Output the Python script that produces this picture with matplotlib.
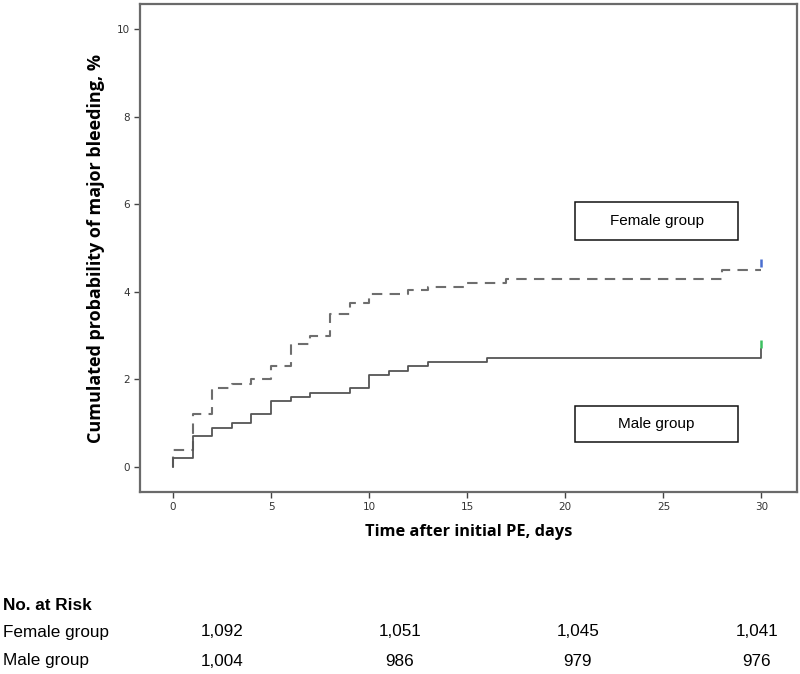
import matplotlib
matplotlib.use("Agg")
import numpy as np
from matplotlib import pyplot as plt
from matplotlib.patches import Rectangle

# region Data
female_days = [0, 0, 1, 2, 3, 4, 5, 6, 7, 8, 9, 10, 12, 13, 15, 17, 28, 30]
female_pct = [0, 0.4, 1.2, 1.8, 1.9, 2.0, 2.3, 2.8, 3.0, 3.5, 3.75, 3.95, 4.05, 4.12, 4.2, 4.3, 4.5, 4.5]
male_days = [0, 0, 1, 2, 3, 4, 5, 6, 7, 9, 10, 11, 12, 13, 16, 30]
male_pct = [0, 0.2, 0.7, 0.9, 1.0, 1.2, 1.5, 1.6, 1.7, 1.8, 2.1, 2.2, 2.3, 2.4, 2.5, 2.7]
female_censor = (30, 4.65)
male_censor = (30, 2.8)

x_ticks = [0, 5, 10, 15, 20, 25, 30]
y_ticks = [0, 2, 4, 6, 8, 10]

risk_groups = ["Female group", "Male group"]
risk_female = ["1,092", "1,051", "1,045", "1,041"]
risk_male = ["1,004", "986", "979", "976"]
# endregion

fig = plt.figure(figsize=(8, 6.74), dpi=100)
ax = fig.add_axes([0.175, 0.27, 0.821, 0.724])

ax.step(female_days, female_pct, where="post", color="#6e6e6e", lw=1.5,
        linestyle=(0, (5, 3.5)))
ax.step(male_days, male_pct, where="post", color="#555555", lw=1.3)
ax.plot(*female_censor, marker="|", color="#4a6fd0", ms=6, mew=1.8)
ax.plot(*male_censor, marker="|", color="#3cc060", ms=6, mew=1.8)

ax.set_xlim(-1.68, 31.8)
ax.set_ylim(-0.57, 10.57)
ax.set_xticks(x_ticks)
ax.set_yticks(y_ticks)
ax.tick_params(labelsize=7.5, labelcolor="#333333", color="#444444", length=4, width=1, direction="out")
for s in ax.spines.values():
    s.set_color("#6a6a6a")
    s.set_linewidth(1.6)

ax.set_xlabel("Time after initial PE, days", fontsize=11.8, fontweight="bold", family="Open Sans", labelpad=8)
ax.set_ylabel("Cumulated probability of major bleeding, %", fontsize=13, fontweight="bold",
              family="Open Sans", labelpad=8)

# region Group boxes
for label, y0, y1 in [("Female group", 5.18, 6.05), ("Male group", 0.57, 1.39)]:
    ax.add_patch(Rectangle((20.5, y0), 8.3, y1 - y0, fc="white", ec="#111111", lw=1.1, zorder=3))
    ax.text(24.65, (y0 + y1) / 2, label, ha="center", va="center", fontsize=11,
            family="Liberation Sans", zorder=4)
# endregion

# region Numbers at risk table
col_x = [222, 400, 578, 757]
fig.text(3 / 800, 1 - 605 / 674, "No. at Risk", fontsize=12.3, fontweight="bold",
         family="Liberation Sans", va="center")
for row, (name, vals) in enumerate(zip(risk_groups, [risk_female, risk_male])):
    y = 1 - (632 + 29 * row) / 674
    fig.text(3 / 800, y, name, fontsize=12.3, family="Liberation Sans", va="center")
    for cx, v in zip(col_x, vals):
        fig.text(cx / 800, y, v, fontsize=12.3, family="Liberation Sans", va="center", ha="center")
# endregion

fig.savefig("out.png", dpi=100)
